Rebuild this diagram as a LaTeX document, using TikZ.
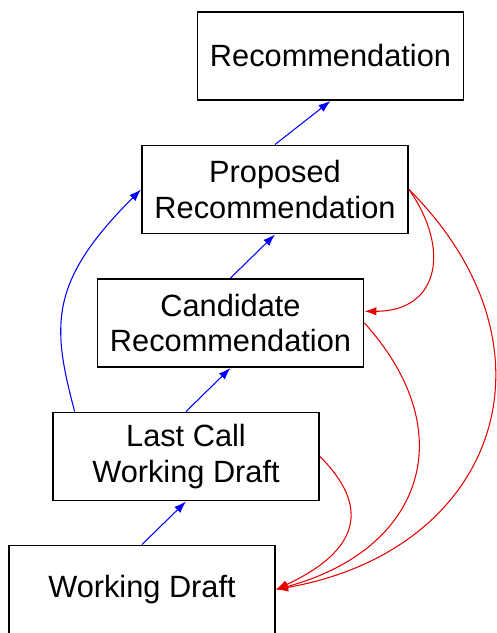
\documentclass[tikz,border=0pt]{standalone}
\usepackage{fontspec}
\setmainfont{Liberation Sans}
\usetikzlibrary{arrows.meta}
\definecolor{flowblue}{RGB}{0, 0, 255}
\definecolor{flowred}{RGB}{230, 0, 0}
\definecolor{textblack}{RGB}{0, 0, 0}

\begin{document}
\begin{tikzpicture}[
        stage/.style={rectangle, draw=black, line width=1.1pt, minimum width=5.32cm, minimum height=1.76cm, inner sep=0pt, fill=white, text=textblack, align=center, font=\fontsize{17.5}{20}\selectfont},
        advance/.style={-{Latex[length=2.4mm, width=1.7mm]}, line width=0.6pt, color=flowblue},
        fallback/.style={-{Latex[length=2.4mm, width=1.7mm]}, line width=0.6pt, color=flowred}
    ]
    \useasboundingbox (0, 0) rectangle (9.94, -12.66);

    % Maturity levels - staircase from top right to bottom left
    \node[stage] (rec) at (6.61, -1.12) {Recommendation};
    \node[stage] (pr) at (5.50, -3.79) {Proposed\\ Recommendation};
    \node[stage] (cr) at (4.61, -6.46) {Candidate\\ Recommendation};
    \node[stage] (lcwd) at (3.72, -9.13) {Last Call\\ Working Draft};
    \node[stage] (wd) at (2.84, -11.79) {Working Draft};

    % Advancing transitions (blue)
    \draw[advance] (wd.north) -- (lcwd.south);
    \draw[advance] (lcwd.north) -- (cr.south);
    \draw[advance] (cr.north) -- (pr.south);
    \draw[advance] (pr.north) -- (rec.south);
    \draw[advance] (lcwd.158) .. controls +(105:1.8) and +(225:2.6) .. (pr.west);

    % Returning transitions (red)
    \draw[fallback] (pr.east) .. controls +(-55:1.48) and +(0:1.48) .. (cr.5);
    \draw[fallback] (pr.east) .. controls +(-45:4.5) and +(10:4.5) .. (wd.east);
    \draw[fallback] (cr.east) .. controls +(-48:3.0) and +(15:3.0) .. (wd.east);
    \draw[fallback] (lcwd.east) .. controls +(-45:1.62) and +(25:1.62) .. (wd.east);

\end{tikzpicture}
\end{document}
